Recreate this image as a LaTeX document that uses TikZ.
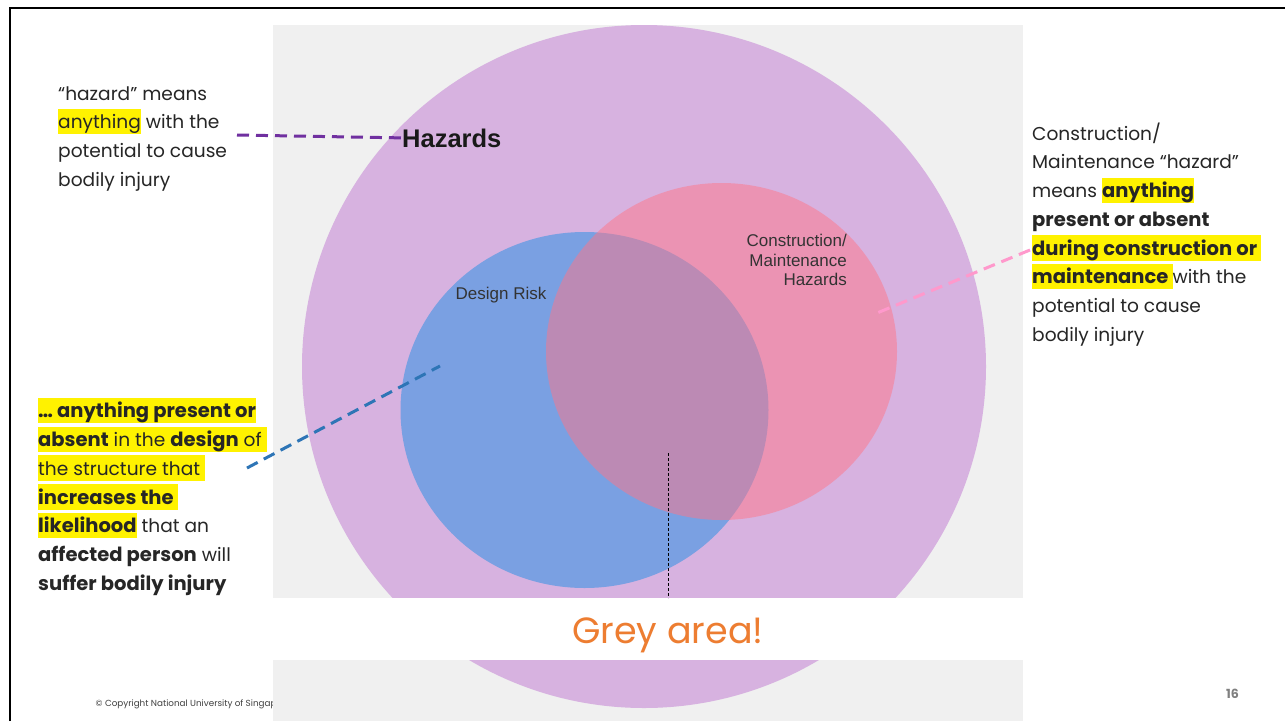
\documentclass[tikz,border=0pt]{standalone}
\usepackage{fontspec}
\setmainfont{Poppins}[BoldFeatures={Scale=1.05}]
\newfontfamily\arialfont{Liberation Sans}
\usetikzlibrary{shapes.geometric}
\definecolor{HazPurple}{RGB}{215,178,224}
\definecolor{DesignBlue}{RGB}{122,160,226}
\definecolor{ConstPink}{RGB}{255,118,136}
\definecolor{PhotoGrey}{RGB}{240,240,240}
\definecolor{LinePurple}{RGB}{112,48,160}
\definecolor{LineBlue}{RGB}{46,117,182}
\definecolor{LinePink}{RGB}{255,153,204}
\definecolor{AccentOrange}{RGB}{237,125,49}
\newcommand\lnstrut{\rule[-5.5pt]{0pt}{25.5pt}}
\newcommand\hl[1]{{\setlength\fboxsep{0pt}\colorbox{yellow}{\lnstrut#1}}}

\begin{document}
\begin{tikzpicture}[
  x=1pt,y=-1pt,
  frame/.style={line width=2.5pt,draw=black},
  slidetext/.style={inner sep=0pt,align=left,text=black!85,font=\fontsize{18.6}{28.7}\selectfont},
  venntext/.style={inner sep=0pt,text=black!80,font=\arialfont\fontsize{17}{19.5}\selectfont},
  set/.style={ellipse,draw=none,inner sep=0pt},
  pointer/.style={line width=3pt,dash pattern=on 12pt off 7pt},
  guide/.style={line width=.8pt,dash pattern=on 3pt off 2pt,draw=black}
]
\useasboundingbox[fill=white] (0,0) rectangle (1285,721);
\draw[frame] (10,721) -- (10,8) -- (1285,8);
\node[inner sep=0pt,anchor=base west,text=black!75,font=\fontsize{8.8}{10}\selectfont] (copyright) at (95.5,706) {© Copyright National University of Singap};
\node[fill=PhotoGrey,inner sep=0pt,minimum width=750pt,minimum height=696pt,anchor=north west] (photo) at (273,25) {};
\node[set,fill=HazPurple,minimum width=684pt,minimum height=683pt] (hazards) at (644,366.5) {};
\node[set,fill=DesignBlue,minimum width=368pt,minimum height=356pt] (design) at (584.5,410) {};
\node[set,fill=ConstPink,fill opacity=.5,minimum width=351pt,minimum height=337pt] (construction) at (721.5,351.5) {};
\node[fill=white,inner sep=0pt,minimum width=750pt,minimum height=62pt,anchor=north west] (band) at (273,598) {};
\node[venntext,text=black!90,font=\arialfont\bfseries\fontsize{25.5}{30}\selectfont,anchor=base west] (hazlabel) at (402,147) {Hazards};
\node[venntext,anchor=base] (designlabel) at (501,299) {Design Risk};
\node[venntext,align=right,anchor=north east] (constlabel) at (847,234) {Construction/\\Maintenance\\Hazards};
\node[slidetext,anchor=north west] (hazdef) at (58,80) {\lnstrut“hazard” means\\\hl{anything} with the\\potential to cause\\bodily injury};
\node[slidetext,anchor=north west] (designdef) at (38,397.7) {\hl{\textbf{… anything present or}}\\\hl{\textbf{absent} in the \textbf{design} of }\\\hl{the structure that }\\\hl{\textbf{increases the }}\\\hl{\textbf{likelihood}} that an\\\textbf{affected person} will\\\textbf{suffer bodily injury}};
\node[slidetext,anchor=north west] (constdef) at (1032,120) {\lnstrut Construction/\\Maintenance “hazard”\\means \hl{\textbf{anything}}\\\textbf{present or absent}\\\hl{\textbf{during construction or }}\\\hl{\textbf{maintenance }}with the\\potential to cause\\bodily injury};
\node[inner sep=0pt,anchor=base,text=AccentOrange,font=\fontsize{36.5}{44}\selectfont] (greyarea) at (668,643) {Grey area!};
\node[inner sep=0pt,anchor=base,text=black!50,font=\bfseries\fontsize{12}{14}\selectfont] (pagenum) at (1232.5,698) {16};
\coordinate (hazstart) at (237,135);
\coordinate (designstart) at (247,468);
\coordinate (designtip) at (440,366);
\coordinate (conststart) at (1030,250);
\coordinate (consttip) at (877,313);
\coordinate (greytip) at (668,453);
\draw[pointer,draw=LinePurple] (hazstart) -- (hazlabel.west);
\draw[pointer,draw=LineBlue] (designstart) -- (designtip);
\draw[pointer,draw=LinePink] (conststart) -- (consttip);
\draw[guide] (greytip) -- (greytip |- band.north);
\end{tikzpicture}
\end{document}
